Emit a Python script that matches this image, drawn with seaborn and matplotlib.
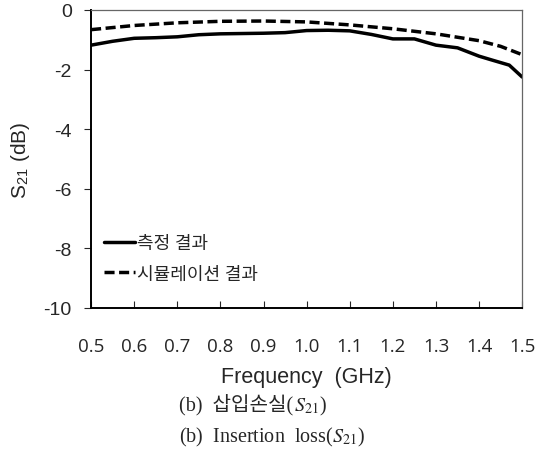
#%% librerías
import matplotlib
matplotlib.use("Agg")
import matplotlib.pyplot as plt
import pandas as pd
import numpy as np
import seaborn as sns

#%% datos
freq_meas = [0.50, 0.55, 0.60, 0.65, 0.70, 0.75, 0.80, 0.85, 0.90, 0.95, 1.00, 1.05, 1.10,
             1.15, 1.20, 1.25, 1.30, 1.35, 1.40, 1.43, 1.47, 1.50]
s21_meas = [-1.18, -1.05, -0.95, -0.93, -0.90, -0.83, -0.80, -0.79, -0.78, -0.76, -0.69, -0.68, -0.70,
            -0.82, -0.97, -0.97, -1.18, -1.27, -1.55, -1.68, -1.85, -2.25]

freq_sim = [0.50, 0.60, 0.70, 0.80, 0.90, 1.00, 1.10, 1.20, 1.30, 1.40, 1.45, 1.50]
s21_sim = [-0.66, -0.52, -0.43, -0.38, -0.37, -0.40, -0.50, -0.63, -0.80, -1.03, -1.22, -1.50]

labels = ["측정 결과", "시뮬레이션 결과"]
xticks = [0.5, 0.6, 0.7, 0.8, 0.9, 1.0, 1.1, 1.2, 1.3, 1.4, 1.5]
yticks = [0, -2, -4, -6, -8, -10]

#%% estilo
sns.set_style("white")
plt.rcParams['font.family'] = ['Open Sans', 'Noto Sans CJK KR', 'DejaVu Sans']
plt.rcParams['mathtext.fontset'] = 'stix'
arial = ['Liberation Sans', 'DejaVu Sans']

fig = plt.figure(figsize=(5.52, 4.56), dpi=100)
ax = fig.add_axes([0.165, 0.3224, 0.781, 0.6535])

meas = pd.DataFrame({"f": freq_meas, "s21": s21_meas})
sim = pd.DataFrame({"f": freq_sim, "s21": s21_sim})

sns.lineplot(data=meas, x="f", y="s21", ax=ax, color="black", lw=2.5, label=labels[0])
sns.lineplot(data=sim, x="f", y="s21", ax=ax, color="black", lw=2.5, ls=(0, (2.9, 1.3)), label=labels[1])

ax.set_xlim(0.5, 1.5)
ax.set_ylim(-10, 0)
ax.set_xticks(xticks)
ax.set_xticklabels([f"{t:.1f}" for t in xticks])
ax.set_yticks(yticks)
ax.set_yticklabels([str(t) for t in yticks], family=arial)
ax.tick_params(axis="x", direction="in", length=5, width=0.8, pad=21, labelsize=13.5, bottom=True)
ax.tick_params(axis="y", direction="out", length=5, width=0.8, pad=9, labelsize=14, left=True)

for s in ["left", "bottom"]:
    ax.spines[s].set_color("black")
    ax.spines[s].set_linewidth(1.4)
for s in ["top", "right"]:
    ax.spines[s].set_color("#666666")
    ax.spines[s].set_linewidth(0.9)

ax.set_xlabel("Frequency  (GHz)", fontsize=15.5, family=arial, labelpad=8)
ax.set_ylabel(r"S$_{\mathregular{21}}$ (dB)", fontsize=15, family=arial, labelpad=8)

ax.legend(loc="lower left", bbox_to_anchor=(0.03, 0.085), frameon=False, fontsize=13,
          handlelength=1.7, handletextpad=0.1, labelspacing=0.7, borderaxespad=0,
          borderpad=0)

#%% pie de figura (coreano sin mathtext, luego S21 encadenado)
serif = ['Liberation Serif', 'Noto Sans CJK KR', 'DejaVu Serif']
t1 = fig.text(0.325, 0.098, "(b)  삽입손실(", fontsize=14.5, family=serif, va="baseline", ha="left")
fig.canvas.draw()
bb = t1.get_window_extent()
x1 = fig.transFigure.inverted().transform((bb.x1, bb.y0))[0]
fig.text(x1, 0.098, r"$\mathit{S}_{21}$)", fontsize=14.5, family=serif, va="baseline", ha="left")
fig.text(0.325, 0.03, r"(b)  Insertion  loss($\mathit{S}_{21}$)", fontsize=14.5,
         family=serif, va="baseline", ha="left")

fig.savefig("out.png", dpi=100)
